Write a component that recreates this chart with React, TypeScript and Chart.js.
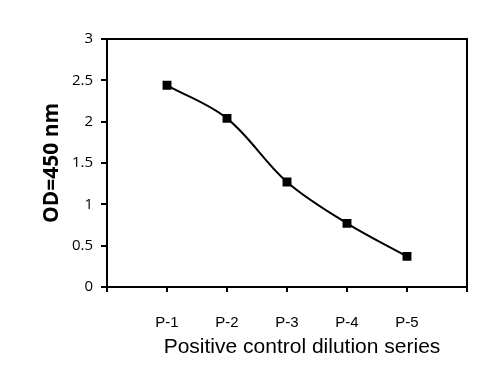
import React, { useEffect, useRef } from "react";
import { Chart, registerables } from "chart.js";

Chart.register(...registerables);

const categories = ["P-1", "P-2", "P-3", "P-4", "P-5"];
const odValues = [2.44, 2.04, 1.27, 0.77, 0.37];
const yTicks = [0, 0.5, 1, 1.5, 2, 2.5, 3];
const xTitle = "Positive control dilution series";
const yTitle = "OD=450 nm";

const framePlugin = {
  id: "frame",
  afterDatasetsDraw(chart: any) {
    const { ctx, chartArea } = chart;
    ctx.save();
    ctx.strokeStyle = "#000";
    ctx.lineWidth = 2;
    ctx.strokeRect(chartArea.left, chartArea.top, chartArea.right - chartArea.left, chartArea.bottom - chartArea.top);
    ctx.restore();
  },
};

const xTitlePlugin = {
  id: "xTitle",
  afterDraw(chart: any) {
    const { ctx, chartArea } = chart;
    ctx.save();
    ctx.fillStyle = "#000";
    ctx.font = "21px 'Liberation Sans'";
    ctx.textAlign = "center";
    ctx.textBaseline = "middle";
    const cx = (chartArea.left + chartArea.right) / 2 + 15;
    ctx.fillText(xTitle, cx, chartArea.bottom + 60);
    ctx.restore();
  },
};

export default function App() {
  const ref = useRef<HTMLCanvasElement>(null);
  useEffect(() => {
    if (!ref.current) return;
    const labels = ["", ...categories, ""];
    const data = [null, ...odValues, null];
    const chart = new Chart(ref.current, {
      type: "line",
      data: {
        labels,
        datasets: [
          {
            data,
            borderColor: "#000",
            backgroundColor: "#000",
            borderWidth: 2,
            tension: 0.35,
            pointStyle: "rect",
            pointRadius: 6.3,
            pointBackgroundColor: "#000",
            pointBorderColor: "#000",
            pointBorderWidth: 0,
            spanGaps: false,
          },
        ],
      },
      options: {
        responsive: false,
        animation: false,
        layout: { padding: { left: 0, right: 24, top: 39, bottom: 0 } },
        plugins: { legend: { display: false }, tooltip: { enabled: false } },
        scales: {
          x: {
            type: "category",
            offset: false,
            border: { display: false },
            grid: {
              display: true,
              drawOnChartArea: false,
              drawTicks: true,
              tickLength: 5,
              color: "#000",
              lineWidth: 2,
            },
            ticks: {
              color: "#000",
              padding: 22,
              maxRotation: 0,
              autoSkip: false,
              font: { family: "Liberation Sans", size: 15 },
            },
            title: { display: false },
            afterFit(scale: any) {
              scale.height = 97;
            },
          },
          y: {
            type: "linear",
            min: 0,
            max: 3,
            border: { display: false },
            afterBuildTicks(scale: any) {
              scale.ticks = yTicks.map((v) => ({ value: v }));
            },
            grid: {
              display: true,
              drawOnChartArea: false,
              drawTicks: true,
              tickLength: 6,
              color: "#000",
              lineWidth: 2,
            },
            ticks: {
              color: "#000",
              padding: 8,
              font: { family: "Open Sans", size: 15 },
              callback: (v: any) => String(v),
            },
            title: {
              display: true,
              text: yTitle,
              color: "#000",
              font: { family: "Open Sans", size: 21, weight: "bold" },
              padding: { top: 39, bottom: 0 },
            },
            afterFit(scale: any) {
              scale.width = 107;
            },
          },
        },
      },
      plugins: [framePlugin, xTitlePlugin],
    });
    return () => chart.destroy();
  }, []);
  return (
    <div style={{ position: "fixed", left: 0, top: 0, width: 491, height: 384, background: "#fff" }}>
      <canvas ref={ref} width={491} height={384} style={{ width: 491, height: 384, display: "block" }} />
    </div>
  );
}
